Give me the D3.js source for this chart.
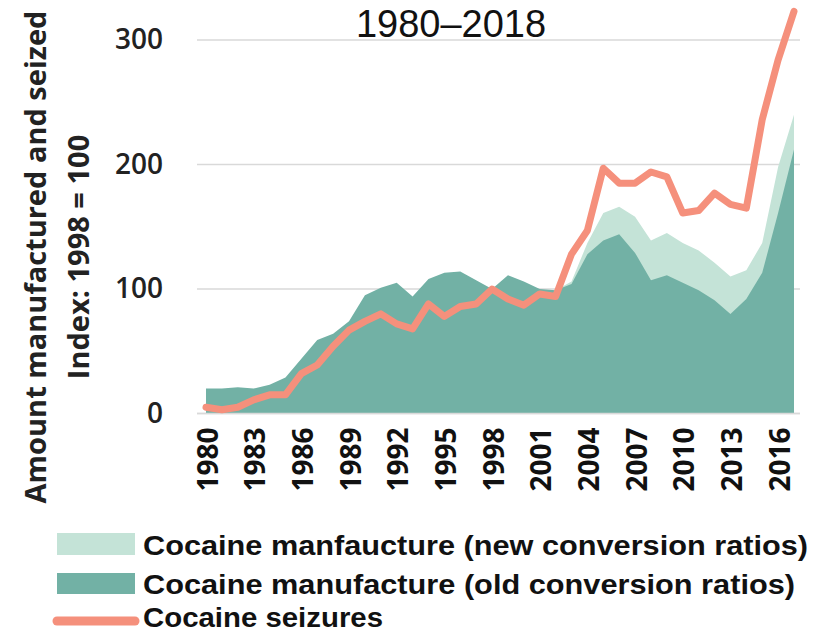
<!DOCTYPE html>
<html>
<head>
<meta charset="utf-8">
<script src="https://cdn.jsdelivr.net/npm/d3@7"></script>
<style>
  html, body { margin: 0; padding: 0; background: #fff; }
  svg { display: block; }
</style>
</head>
<body>
<svg id="chart" width="825" height="633"></svg>
<script>
const years = d3.range(1980, 2018);
const tickYears = [1980, 1983, 1986, 1989, 1992, 1995, 1998, 2001, 2004, 2007, 2010, 2013, 2016];
const yTicks = [0, 100, 200, 300];

const manufactureOld = [20, 20, 21, 20, 23, 29, 44, 59, 64, 74, 95, 101, 105, 94, 108, 113, 114, 107, 100, 111, 106, 100, 99, 104, 128, 139, 144, 129, 107, 111, 105, 99, 91, 80, 92, 113, 161, 212];
const manufactureNew = [null, null, null, null, null, null, null, null, null, null, null, null, null, null, null, null, null, null, null, null, null, null, 99, 106, 137, 161, 166, 158, 139, 145, 137, 131, 121, 110, 115, 137, 198, 240];
const seizures = [5, 3, 5, 11, 15, 15, 32, 39, 54, 67, 74, 80, 72, 68, 88, 78, 86, 88, 100, 92, 87, 96, 94, 128, 147, 197, 185, 185, 194, 190, 161, 163, 177, 168, 165, 236, 284, 323];

const title = "1980\u20132018";
const yTitle1 = "Amount manufactured and seized";
const yTitle2 = "Index: 1998 = 100";
const legendLabels = ["Cocaine manfaucture (new conversion ratios)", "Cocaine manufacture (old conversion ratios)", "Cocaine seizures"];

const colNew = "#c4e3d7", colOld = "#72b1a5", colSeize = "#f5907c";
const font = "'Open Sans', sans-serif";
const legendFont = "'Liberation Sans', Arial, sans-serif";

const svg = d3.select("#chart");
const x = d3.scaleLinear().domain([1980, 2017]).range([206, 794]);
const y = d3.scaleLinear().domain([0, 300]).range([413.5, 40]);

// gridlines
svg.append("g").selectAll("line").data(yTicks).join("line")
  .attr("x1", 197).attr("x2", 800)
  .attr("y1", d => y(d)).attr("y2", d => y(d))
  .attr("stroke", "#d9d9d9").attr("stroke-width", 1.5);

const data = years.map((yr, i) => ({ yr, old: manufactureOld[i], nw: manufactureNew[i], s: seizures[i] }));

svg.append("path").datum(data.filter(d => d.nw != null))
  .attr("fill", colNew)
  .attr("d", d3.area().x(d => x(d.yr)).y0(y(0)).y1(d => y(d.nw)));

svg.append("path").datum(data)
  .attr("fill", colOld)
  .attr("d", d3.area().x(d => x(d.yr)).y0(y(0)).y1(d => y(d.old)));

svg.append("line").attr("x1", 197).attr("x2", 800).attr("y1", y(0)).attr("y2", y(0))
  .attr("stroke", "#d9d9d9").attr("stroke-width", 1.5);

svg.append("path").datum(data)
  .attr("fill", "none").attr("stroke", colSeize).attr("stroke-width", 7)
  .attr("stroke-linejoin", "round").attr("stroke-linecap", "round")
  .attr("d", d3.line().x(d => x(d.yr)).y(d => y(d.s)));

// y axis
const yAxis = d3.axisLeft(y).tickValues(yTicks).tickSize(0).tickPadding(0);
const gy = svg.append("g").attr("transform", "translate(163,0)").call(yAxis);
gy.select(".domain").remove();
gy.selectAll("text").attr("font-family", font).attr("font-size", 28).attr("fill", "#222").attr("font-weight", 600);

// x axis
const xAxis = d3.axisBottom(x).tickValues(tickYears).tickFormat(d3.format("d")).tickSize(0);
const gx = svg.append("g").attr("transform", "translate(0,413.5)").call(xAxis);
gx.select(".domain").remove();
gx.selectAll("text")
  .attr("font-family", font).attr("font-size", 28).attr("font-weight", "bold").attr("fill", "#111")
  .attr("text-anchor", "end").attr("dy", null)
  .attr("transform", "translate(0,14) rotate(-90)")
  .attr("x", 0).attr("y", 0).attr("dominant-baseline", "central");

// title
svg.append("text").attr("x", 451).attr("y", 37).attr("text-anchor", "middle")
  .attr("font-family", legendFont).attr("font-weight", "normal").attr("font-size", 38).attr("fill", "#111")
  .text(title);

// y titles
svg.append("text").attr("transform", "translate(34,257) rotate(-90)")
  .attr("text-anchor", "middle").attr("dominant-baseline", "central")
  .attr("font-family", font).attr("font-weight", "bold").attr("font-size", 29).attr("fill", "#222")
  .text(yTitle1);
svg.append("text").attr("transform", "translate(77,257) rotate(-90)")
  .attr("text-anchor", "middle").attr("dominant-baseline", "central")
  .attr("font-family", font).attr("font-weight", "bold").attr("font-size", 29).attr("fill", "#222")
  .text(yTitle2);

// legend
const lg = svg.append("g");
lg.append("rect").attr("x", 57).attr("y", 533).attr("width", 78).attr("height", 22).attr("fill", colNew);
lg.append("rect").attr("x", 57).attr("y", 573).attr("width", 78).attr("height", 21).attr("fill", colOld);
lg.append("line").attr("x1", 57).attr("x2", 135).attr("y1", 621).attr("y2", 621)
  .attr("stroke", colSeize).attr("stroke-width", 9).attr("stroke-linecap", "round");
const rowsY = [555, 594, 627];
const rowsW = [665, 652, 240];
lg.selectAll("text").data(legendLabels).join("text")
  .attr("x", 143).attr("y", (d, i) => rowsY[i])
  .attr("textLength", (d, i) => rowsW[i]).attr("lengthAdjust", "spacingAndGlyphs")
  .attr("font-family", legendFont).attr("font-weight", "bold").attr("font-size", 27).attr("fill", "#111")
  .text(d => d);
</script>
</body>
</html>
